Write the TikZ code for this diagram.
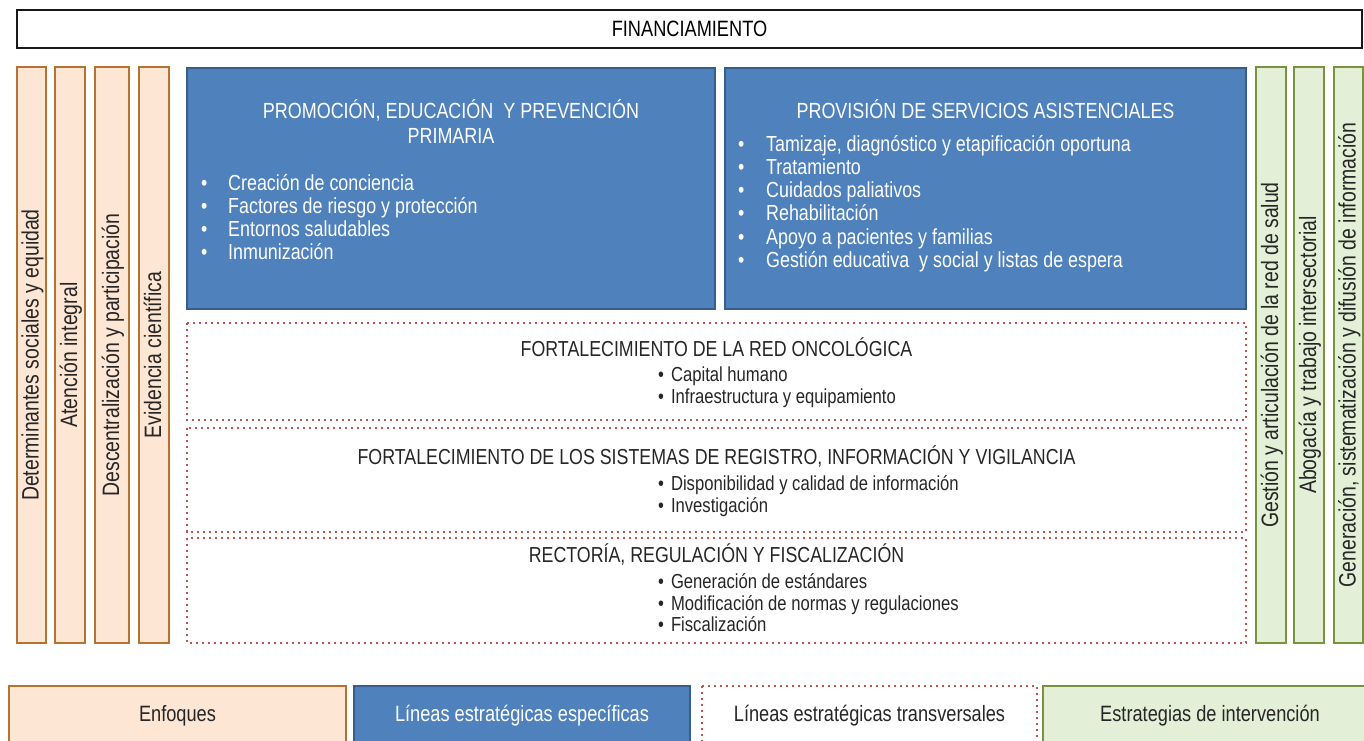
\documentclass[tikz,border=0pt]{standalone}
\usepackage{fontspec}
\setmainfont{Liberation Sans}[FakeStretch=0.82]
\definecolor{orFill}{HTML}{FDE6D4}
\definecolor{orLine}{HTML}{B8722F}
\definecolor{blFill}{HTML}{4F81BD}
\definecolor{blLine}{HTML}{385D8A}
\definecolor{grFill}{HTML}{E3EFD7}
\definecolor{grLine}{HTML}{77933C}
\definecolor{rdLine}{HTML}{C8504D}
\definecolor{txt}{HTML}{262626}
\begin{document}
\begin{tikzpicture}[x=1pt,y=-1pt,
  orbar/.style={draw=orLine,fill=orFill,line width=2.8pt},
  grbar/.style={draw=grLine,fill=grFill,line width=2.8pt},
  blbox/.style={draw=blLine,fill=blFill,line width=1.6pt},
  dotbox/.style={draw=rdLine,line width=2.2pt,dash pattern=on 2.2pt off 3.8pt},
  fin/.style={draw=black!90,line width=2.2pt},
  vtext/.style={rotate=90,anchor=base,inner sep=0pt,text=txt,font=\fontsize{23.7}{27}\selectfont},
  wtitle/.style={anchor=base,inner sep=0pt,text=white,font=\fontsize{21.9}{25}\selectfont},
  witem/.style={anchor=base west,inner sep=0pt,text=white,font=\fontsize{21.8}{25}\selectfont},
  dtitle/.style={anchor=base,inner sep=0pt,text=txt,font=\fontsize{21.7}{25}\selectfont},
  ditem/.style={anchor=base west,inner sep=0pt,text=txt,font=\fontsize{20.3}{23}\selectfont},
  ltext/.style={anchor=base,inner sep=0pt,font=\fontsize{22.2}{25}\selectfont}]
\useasboundingbox (0,0) rectangle (1364,740);
\clip (0,0) rectangle (1364,740);
% financiamiento
\draw[fin] (17,10) rectangle (1362,48);
\node[ltext,text=black] (fin) at (689.5,36.8) {FINANCIAMIENTO};
% orange bars
\draw[orbar] (17,67) rectangle (46,643);
\draw[orbar] (55,67) rectangle (85,643);
\draw[orbar] (95,67) rectangle (129,643);
\draw[orbar] (139,67) rectangle (169,643);
\node[vtext] (e1) at (38.5,355) {Determinantes sociales y equidad};
\node[vtext] (e2) at (77,355) {Atención integral};
\node[vtext] (e3) at (119,355) {Descentralización y participación};
\node[vtext] (e4) at (161,355) {Evidencia científica};
% green bars
\draw[grbar] (1256,67) rectangle (1286,643);
\draw[grbar] (1294,67) rectangle (1324,643);
\draw[grbar] (1334,67) rectangle (1363,643);
\node[vtext] (g1) at (1278,355) {Gestión y articulación de la red de salud};
\node[vtext] (g2) at (1316,355) {Abogacía y trabajo intersectorial};
\node[vtext] (g3) at (1355.5,355) {Generación, sistematización y difusión de información};
% blue boxes
\draw[blbox] (187,68) rectangle (715,309);
\draw[blbox] (725,68) rectangle (1246,309);
\node[wtitle] (b1t1) at (451,118) {PROMOCIÓN, EDUCACIÓN \ Y PREVENCIÓN};
\node[wtitle] (b1t2) at (451,143) {PRIMARIA};
\foreach \t [count=\i from 0] in {Creación de conciencia,Factores de riesgo y protección,Entornos saludables,Inmunización}{
  \node[witem] (b1b\i) at (201,{190+23.3*\i}) {•};
  \node[witem] (b1i\i) at (228,{190+23.3*\i}) {\t};
}
\node[wtitle] (b2t) at (985.5,118) {PROVISIÓN DE SERVICIOS ASISTENCIALES};
\foreach \t [count=\i from 0] in {{Tamizaje, diagnóstico y etapificación oportuna},Tratamiento,Cuidados paliativos,Rehabilitación,Apoyo a pacientes y familias,Gestión educativa \ y social y listas de espera}{
  \node[witem] (b2b\i) at (738,{151+23.3*\i}) {•};
  \node[witem] (b2i\i) at (766,{151+23.3*\i}) {\t};
}
% dotted boxes
\draw[dotbox] (187,323) rectangle (1246,420);
\draw[dotbox] (187,428) rectangle (1246,532);
\draw[dotbox] (187,538) rectangle (1246,643);
\node[dtitle] (d1t) at (716.5,356.5) {FORTALECIMIENTO DE LA RED ONCOLÓGICA};
\node[ditem] (d1a) at (658,381) {•\hspace{7pt}Capital humano};
\node[ditem] (d1b) at (658,403) {•\hspace{7pt}Infraestructura y equipamiento};
\node[dtitle] (d2t) at (716.5,464.5) {FORTALECIMIENTO DE LOS SISTEMAS DE REGISTRO, INFORMACIÓN Y VIGILANCIA};
\node[ditem] (d2a) at (658,490.5) {•\hspace{7pt}Disponibilidad y calidad de información};
\node[ditem] (d2b) at (658,512.5) {•\hspace{7pt}Investigación};
\node[dtitle] (d3t) at (716.5,562.5) {RECTORÍA, REGULACIÓN Y FISCALIZACIÓN};
\node[ditem] (d3a) at (658,588.5) {•\hspace{7pt}Generación de estándares};
\node[ditem] (d3b) at (658,610.5) {•\hspace{7pt}Modificación de normas y regulaciones};
\node[ditem] (d3c) at (658,631.5) {•\hspace{7pt}Fiscalización};
% legend
\draw[orbar] (9,686) rectangle (346,760);
\draw[blbox] (354,686) rectangle (690,760);
\draw[dotbox] (702,686) rectangle (1037,760);
\draw[grbar] (1043,686) rectangle (1380,760);
\node[ltext,text=txt] (l1) at (177.5,721) {Enfoques};
\node[ltext,text=white] (l2) at (522,721) {Líneas estratégicas específicas};
\node[ltext,text=txt] (l3) at (869.5,721) {Líneas estratégicas transversales};
\node[ltext,text=txt] (l4) at (1210,721) {Estrategias de intervención};
\end{tikzpicture}
\end{document}
